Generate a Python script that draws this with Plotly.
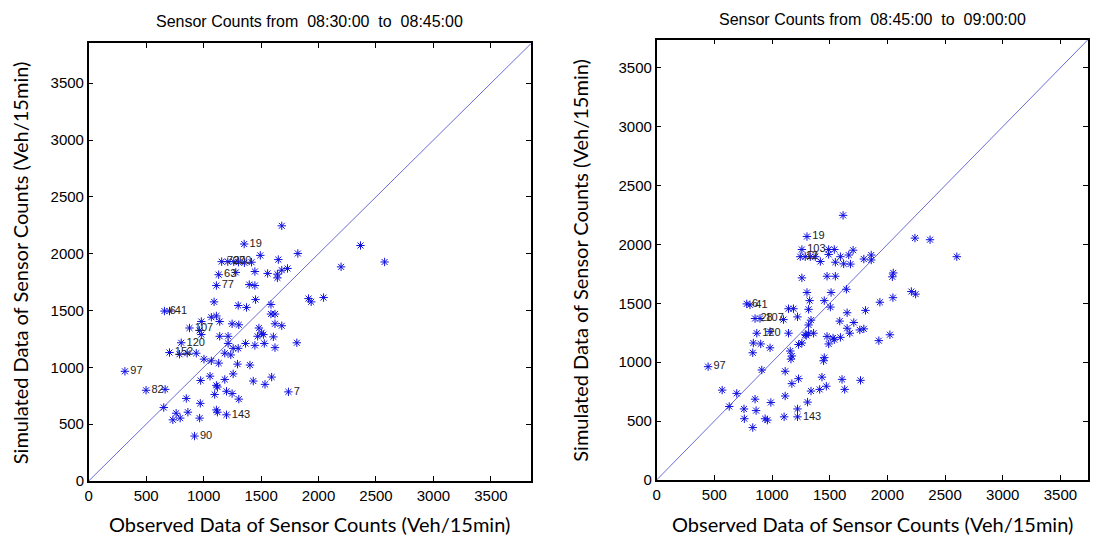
import plotly.graph_objects as go

# ---------------- data ----------------
left_title = "Sensor Counts from  08:30:00  to  08:45:00"
right_title = "Sensor Counts from  08:45:00  to  09:00:00"
x_title = "Observed Data of Sensor Counts (Veh/15min)"
y_title = "Simulated Data of Sensor Counts (Veh/15min)"
tick_vals = [0, 500, 1000, 1500, 2000, 2500, 3000, 3500]
left_max = 3850
right_max = 3740

left_obs = [1680, 1353, 1493, 1820, 1650, 1157, 1210, 1262, 1303, 1355, 1417, 1280, 1446, 1557,
            1642, 1642, 1680, 1730, 1131, 1111, 1397, 1446, 1913, 1936, 2044, 1091, 1452, 1301,
            1373, 1586, 659, 703, 1067, 1111, 1140, 980, 1586, 1621, 1248, 1306, 1481, 1505,
            1621, 1680, 877, 965, 980, 1140, 1213, 1470, 1520, 1607, 1811, 1528, 805, 703,
            790, 857, 936, 1213, 1257, 1301, 1365, 1446, 1621, 1184, 1236, 1003, 1067, 1131,
            1295, 1403, 1257, 315, 974, 1056, 1184, 1432, 1534, 1592, 1111, 1120, 499, 665,
            1738, 1096, 1199, 1248, 1306, 849, 971, 653, 1111, 1120, 863, 761, 796, 732,
            965, 1199, 921, 2365, 2196, 2575]
left_sim = [2245, 2085, 1985, 2002, 1948, 1930, 1930, 1930, 1925, 1920, 1925, 1835, 1843, 1826,
            1820, 1787, 1855, 1870, 1815, 1720, 1728, 1720, 1605, 1576, 1614, 1576, 1596, 1544,
            1527, 1553, 1495, 1495, 1441, 1452, 1403, 1403, 1469, 1469, 1383, 1374, 1346, 1302,
            1383, 1366, 1346, 1325, 1288, 1273, 1273, 1273, 1288, 1268, 1216, 1210, 1216, 1130,
            1115, 1124, 1124, 1210, 1167, 1167, 1210, 1193, 1173, 1124, 1109, 1072, 1057, 1037,
            1028, 1020, 942, 965, 884, 922, 893, 879, 850, 914, 841, 827, 798, 806,
            784, 761, 789, 769, 720, 726, 683, 646, 625, 605, 605, 596, 553, 538,
            553, 582, 395, 2072, 1884, 1927]
left_labels = {1: "19", 5: "72", 6: "20", 7: "70", 18: "63", 19: "77", 30: "6", 31: "41",
               44: "107", 54: "120", 55: "152", 73: "97", 82: "82", 84: "7", 99: "143", 100: "90"}

right_obs = [1616, 1303, 1259, 1245, 1288, 1332, 1375, 1419, 1491, 1540, 1703, 1491, 1549, 1593,
             1621, 1665, 1680, 1796, 1860, 1860, 1259, 1477, 1549, 1303, 1326, 1512, 1645, 1453,
             1506, 1935, 2048, 2051, 2043, 1143, 1186, 1221, 1317, 781, 809, 853, 896, 1099,
             1338, 1317, 1587, 1651, 1709, 1810, 868, 983, 1143, 1288, 1317, 1360, 1477, 1529,
             1593, 1651, 1674, 1761, 1796, 1926, 2022, 838, 902, 983, 833, 1158, 1172, 1164,
             1230, 1259, 1297, 1491, 1540, 1453, 1447, 446, 911, 1114, 1172, 1230, 1433, 1607,
             1767, 568, 694, 853, 990, 1114, 1338, 1413, 1471, 1630, 1308, 629, 757, 862,
             1221, 1221, 760, 940, 960, 1105, 833, 2239, 2370, 2602, 2208, 2245]
right_sim = [2247, 2067, 1957, 1896, 1896, 1896, 1896, 1855, 1957, 1957, 1951, 1915, 1849, 1896,
             1835, 1910, 1833, 1876, 1910, 1868, 1716, 1730, 1730, 1592, 1523, 1592, 1619, 1523,
             1468, 1509, 1548, 1758, 1725, 1454, 1454, 1385, 1449, 1495, 1487, 1371, 1371, 1362,
             1357, 1316, 1349, 1420, 1337, 1440, 1246, 1260, 1246, 1233, 1246, 1246, 1219, 1205,
             1211, 1288, 1246, 1274, 1283, 1183, 1233, 1163, 1155, 1122, 1080, 1095, 1053, 1026,
             1150, 1163, 1227, 1155, 1191, 1039, 1012, 962, 934, 923, 818, 860, 873, 854,
             846, 763, 735, 686, 658, 713, 755, 769, 796, 769, 661, 624, 603, 589,
             603, 536, 520, 520, 508, 536, 445, 2054, 2040, 1896, 1600, 1578]
right_labels = {1: "19", 2: "103", 3: "12", 37: "6", 38: "41", 39: "28", 40: "107",
                48: "120", 77: "97", 99: "143"}

# ---------------- figure ----------------
W, H = 1106, 544
OFF_X, OFF_Y = 10, 3  # page offset of the rendered plot
fig = go.Figure()

STAR = dict(symbol="asterisk-open", size=7, color="#1010e0",
            line=dict(color="#1010e0", width=1))
TXT = dict(family="Liberation Sans, Arial, sans-serif", size=11, color="#222222")


def add_panel(obs, sim, labels, vmax, xa, ya):
    texts = [labels.get(i, "") for i in range(len(obs))]
    fig.add_trace(go.Scatter(x=[0, vmax], y=[0, vmax], mode="lines",
                             line=dict(color="#6b6bd6", width=1),
                             xaxis=xa, yaxis=ya, hoverinfo="skip", showlegend=False))
    fig.add_trace(go.Scatter(x=obs, y=sim, mode="markers+text", text=texts,
                             textposition="middle right", textfont=TXT,
                             marker=STAR, xaxis=xa, yaxis=ya, showlegend=False))


add_panel(left_obs, left_sim, left_labels, left_max, "x", "y")
add_panel(right_obs, right_sim, right_labels, right_max, "x2", "y2")

# pixel geometry of the two plot boxes (in screenshot pixels)
L = dict(x0=87, x1=531, y0=39, y1=483)
R = dict(x0=657, x1=1090, y0=35, y1=482)


def fx(x):
    return (x - OFF_X) / W


def fy(y):
    return 1 - (y - OFF_Y) / H


axis_common = dict(showline=True, linewidth=1.5, linecolor="black", mirror="ticks",
                   ticks="inside", ticklen=5, tickwidth=1, tickcolor="black",
                   showgrid=False, zeroline=False, tickvals=tick_vals,
                   tickfont=dict(family="Liberation Sans, Arial, sans-serif", size=15,
                                 color="black"))

fig.update_layout(
    width=W, height=H, margin=dict(l=0, r=0, t=0, b=0),
    paper_bgcolor="white", plot_bgcolor="white",
    xaxis=dict(domain=[fx(L["x0"]), fx(L["x1"])], range=[0, left_max], anchor="y", **axis_common),
    yaxis=dict(domain=[fy(L["y1"]), fy(L["y0"])], range=[0, left_max], anchor="x", **axis_common),
    xaxis2=dict(domain=[fx(R["x0"]), fx(R["x1"])], range=[0, right_max], anchor="y2", **axis_common),
    yaxis2=dict(domain=[fy(R["y1"]), fy(R["y0"])], range=[0, right_max], anchor="x2", **axis_common),
)

TITLE_FONT = dict(family="Liberation Sans, Arial, sans-serif", size=16, color="black")
LABEL_FONT = dict(family="Lato, Open Sans, sans-serif", size=20, color="black")

anns = []
for box, title, ytx, tty in [(L, left_title, 18, 17), (R, right_title, 580, 15)]:
    cx = (box["x0"] + box["x1"]) / 2
    cy = (box["y0"] + box["y1"]) / 2
    anns.append(dict(text=title, x=fx(cx), y=fy(tty), xref="paper", yref="paper", showarrow=False,
                     font=TITLE_FONT, xanchor="center", yanchor="middle"))
    anns.append(dict(text=x_title, x=fx(cx), y=fy(527), xref="paper", yref="paper", showarrow=False,
                     font=LABEL_FONT, xanchor="center", yanchor="middle"))
    anns.append(dict(text=y_title, x=fx(ytx), y=fy(cy), xref="paper", yref="paper", showarrow=False,
                     font=LABEL_FONT, textangle=-90, xanchor="center", yanchor="middle"))
fig.update_layout(annotations=anns)

fig.write_html("out.html")
